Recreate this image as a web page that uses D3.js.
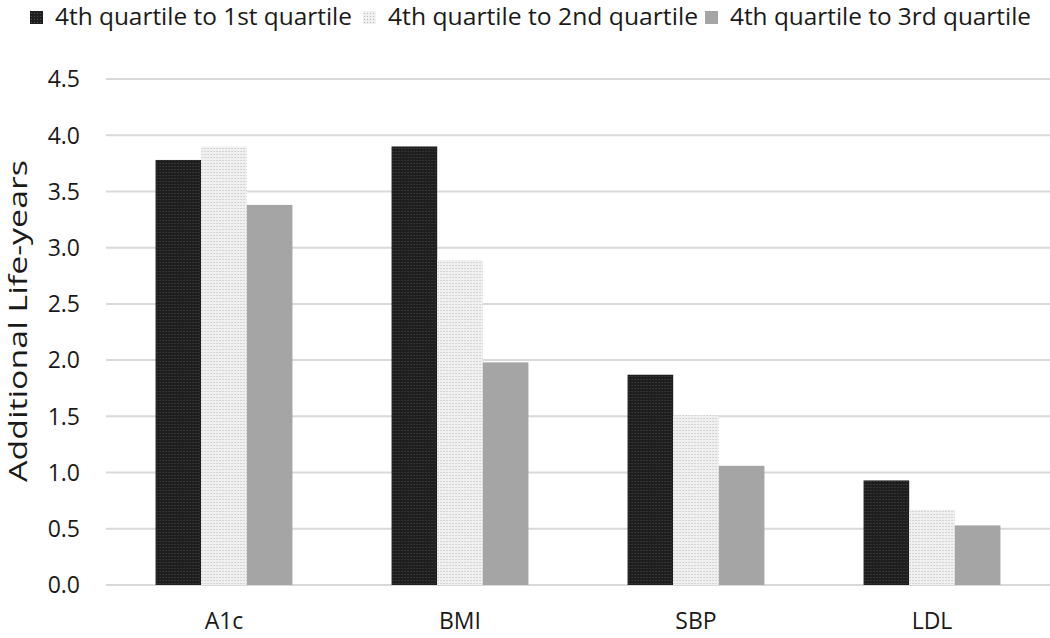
<!DOCTYPE html>
<html>
<head>
<meta charset="utf-8">
<script src="https://cdn.jsdelivr.net/npm/d3@7"></script>
<style>
  body { margin: 0; background: #fff; }
  svg { display: block; font-family: "Open Sans", "Liberation Sans", sans-serif; }
</style>
</head>
<body>
<svg id="chart" width="1050" height="638"></svg>
<script>
// ── DATA ────────────────────────────────────────────────────
const categories = ['A1c', 'BMI', 'SBP', 'LDL'];
const seriesNames = [
  '4th quartile to 1st quartile',
  '4th quartile to 2nd quartile',
  '4th quartile to 3rd quartile'
];
const q1Values = [3.78, 3.90, 1.87, 0.93];
const q2Values = [3.90, 2.89, 1.51, 0.67];
const q3Values = [3.38, 1.98, 1.06, 0.53];
const yTicks = [0, 0.5, 1, 1.5, 2, 2.5, 3, 3.5, 4, 4.5];

const seriesValues = [q1Values, q2Values, q3Values];
const fills = ['url(#pat-dark)', 'url(#pat-light)', '#a5a5a5'];

// ── SETUP ───────────────────────────────────────────────────
const W = 1050, H = 638;
const margin = { top: 79, right: 0, bottom: 53, left: 106 };
const TEXT = '#1a1a1a';

const svg = d3.select('#chart');

// dithered fills, like the original print
const defs = svg.append('defs');
const dark = defs.append('pattern').attr('id', 'pat-dark')
  .attr('width', 3).attr('height', 3).attr('patternUnits', 'userSpaceOnUse');
dark.append('rect').attr('width', 3).attr('height', 3).attr('fill', '#1e1e1e');
dark.append('rect').attr('x', 1).attr('y', 1).attr('width', 1).attr('height', 1).attr('fill', '#4a4a4a');
const light = defs.append('pattern').attr('id', 'pat-light')
  .attr('width', 3).attr('height', 3).attr('patternUnits', 'userSpaceOnUse');
light.append('rect').attr('width', 3).attr('height', 3).attr('fill', '#f0f0f0');
light.append('rect').attr('x', 1).attr('y', 1).attr('width', 1).attr('height', 1).attr('fill', '#b8b8b8');

const x0 = d3.scaleBand()
  .domain(categories)
  .range([margin.left, W - margin.right])
  .paddingInner(0.42)
  .paddingOuter(0.21);

const x1 = d3.scaleBand()
  .domain(d3.range(seriesNames.length))
  .range([0, x0.bandwidth()]);

const y = d3.scaleLinear()
  .domain([0, 4.5])
  .range([H - margin.bottom, margin.top]);

// ── GRID ────────────────────────────────────────────────────
svg.append('g')
  .selectAll('line')
  .data(yTicks)
  .join('line')
  .attr('x1', margin.left)
  .attr('x2', W - margin.right)
  .attr('y1', d => y(d))
  .attr('y2', d => y(d))
  .attr('stroke', '#d9d9d9')
  .attr('stroke-width', 2);

// y tick labels
svg.append('g')
  .selectAll('text')
  .data(yTicks)
  .join('text')
  .attr('x', 80)
  .attr('y', d => y(d))
  .attr('dy', '0.36em')
  .attr('text-anchor', 'end')
  .attr('font-size', 23)
  .attr('fill', TEXT)
  .text(d => d3.format('.1f')(d));

// ── BARS ────────────────────────────────────────────────────
const groups = svg.append('g')
  .selectAll('g')
  .data(categories)
  .join('g')
  .attr('transform', d => `translate(${x0(d)},0)`);

groups.selectAll('rect')
  .data((d, i) => seriesValues.map((vals, s) => ({ s, v: vals[i] })))
  .join('rect')
  .attr('x', d => x1(d.s))
  .attr('width', x1.bandwidth())
  .attr('y', d => y(d.v))
  .attr('height', d => y(0) - y(d.v))
  .attr('fill', d => fills[d.s]);

// x labels
svg.append('g')
  .selectAll('text')
  .data(categories)
  .join('text')
  .attr('x', d => x0(d) + x0.bandwidth() / 2)
  .attr('y', 629)
  .attr('text-anchor', 'middle')
  .attr('font-size', 23)
  .attr('fill', TEXT)
  .text(d => d);

// y axis title
svg.append('text')
  .attr('transform', 'translate(27,321) rotate(-90)')
  .attr('text-anchor', 'middle')
  .attr('font-size', 25)
  .attr('textLength', 322)
  .attr('lengthAdjust', 'spacingAndGlyphs')
  .attr('fill', TEXT)
  .text('Additional Life-years');

// ── LEGEND ──────────────────────────────────────────────────
const legendX = [30, 363, 705];
const legendLen = [297, 310, 301];
const legend = svg.append('g')
  .selectAll('g')
  .data(seriesNames)
  .join('g')
  .attr('transform', (d, i) => `translate(${legendX[i]},0)`);

legend.append('rect')
  .attr('y', 11)
  .attr('width', 13).attr('height', 13)
  .attr('fill', (d, i) => fills[i]);

legend.append('text')
  .attr('x', 25)
  .attr('y', 25)
  .attr('font-size', 23)
  .attr('textLength', (d, i) => legendLen[i])
  .attr('lengthAdjust', 'spacingAndGlyphs')
  .attr('fill', TEXT)
  .text(d => d);
</script>
</body>
</html>
